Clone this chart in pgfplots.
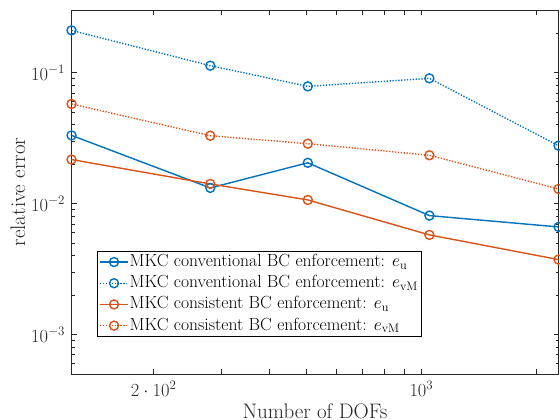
\RequirePackage{fix-cm}
\documentclass[border=0pt]{standalone}
\usepackage{pgfplots}
\pgfplotsset{compat=1.18}
\definecolor{mblue}{rgb}{0,0.447,0.741}
\definecolor{morange}{rgb}{0.85,0.325,0.098}
\definecolor{axgray}{rgb}{0.15,0.15,0.15}
\begin{document}
\begin{tikzpicture}
\begin{axis}[
  xmode=log, ymode=log,
  scale only axis, width=487pt, height=364pt,
  xmin=122, xmax=2280, ymin=5e-4, ymax=0.301,
  xtick={200,300,400,500,600,700,800,900,1000,2000},
  xticklabels={$2\cdot10^{2}$,,,,,,,,$10^{3}$,},
  minor xtick={},
  ytick={1e-3,1e-2,1e-1},
  minor ytick={5e-4,6e-4,7e-4,8e-4,9e-4,2e-3,3e-3,4e-3,5e-3,6e-3,7e-3,8e-3,9e-3,2e-2,3e-2,4e-2,5e-2,6e-2,7e-2,8e-2,9e-2,2e-1,3e-1},
  tick align=inside,
  major tick length=5pt, minor tick length=3pt,
  axis line style={axgray, line width=0.8pt},
  every tick/.style={axgray, line width=0.8pt},
  tick label style={font=\fontsize{18.5}{22}\selectfont, text=axgray},
  xticklabel style={anchor=base, yshift=-22pt},
  yticklabel style={xshift=-3pt},
  label style={font=\fontsize{21}{25}\selectfont, text=axgray},
  xlabel={Number of DOFs}, ylabel={relative error},
  xlabel style={at={(rel axis cs:0.5,0)}, anchor=base, yshift=-44.3pt},
  ylabel style={at={(rel axis cs:0,0.5)}, anchor=center, yshift=53.5pt},
  legend style={at={(rel axis cs:0.0524,0.1016)}, anchor=south west,
    draw=black, line width=0.6pt, fill=white,
    font=\fontsize{17.6}{21}\selectfont, inner xsep=2pt, inner ysep=0.5pt,
    nodes={inner xsep=1pt, inner ysep=1.1pt, text height=14pt, text depth=5pt},
    row sep=0pt, /tikz/every even column/.append style={column sep=0pt}},
  legend cell align=left,
  legend image code/.code={\draw[mark repeat=2,mark phase=2] plot coordinates {(0pt,0pt) (14pt,0pt) (28pt,0pt)};},
  clip=false,
]
\addplot[mblue, line width=1.4pt, mark=o, mark size=4.5pt, mark options={solid}]
  coordinates {(122,0.0332) (281,0.01318) (505,0.0205) (1049,0.0081) (2280,0.00664)};
\addlegendentry{MKC conventional BC enforcement: $e_{\mathrm{u}}$}
\addplot[mblue, line width=1.4pt, dash pattern=on 1.3pt off 1.6pt, mark=o, mark size=4.5pt, mark options={solid}]
  coordinates {(122,0.2103) (281,0.1131) (505,0.0786) (1049,0.0905) (2280,0.0277)};
\addlegendentry{MKC conventional BC enforcement: $e_{\mathrm{vM}}$}
\addplot[morange, line width=1.4pt, mark=o, mark size=4.5pt, mark options={solid}]
  coordinates {(122,0.0217) (281,0.01414) (505,0.01067) (1049,0.00577) (2280,0.00374)};
\addlegendentry{MKC consistent BC enforcement: $e_{\mathrm{u}}$}
\addplot[morange, line width=1.4pt, dash pattern=on 1.3pt off 1.6pt, mark=o, mark size=4.5pt, mark options={solid}]
  coordinates {(122,0.0577) (281,0.033) (505,0.0287) (1049,0.0234) (2280,0.01294)};
\addlegendentry{MKC consistent BC enforcement: $e_{\mathrm{vM}}$}
\end{axis}
\pgfresetboundingbox
\path[use as bounding box] (-71.5pt,-46pt) rectangle (488.5pt,374pt);
\end{tikzpicture}
\end{document}
